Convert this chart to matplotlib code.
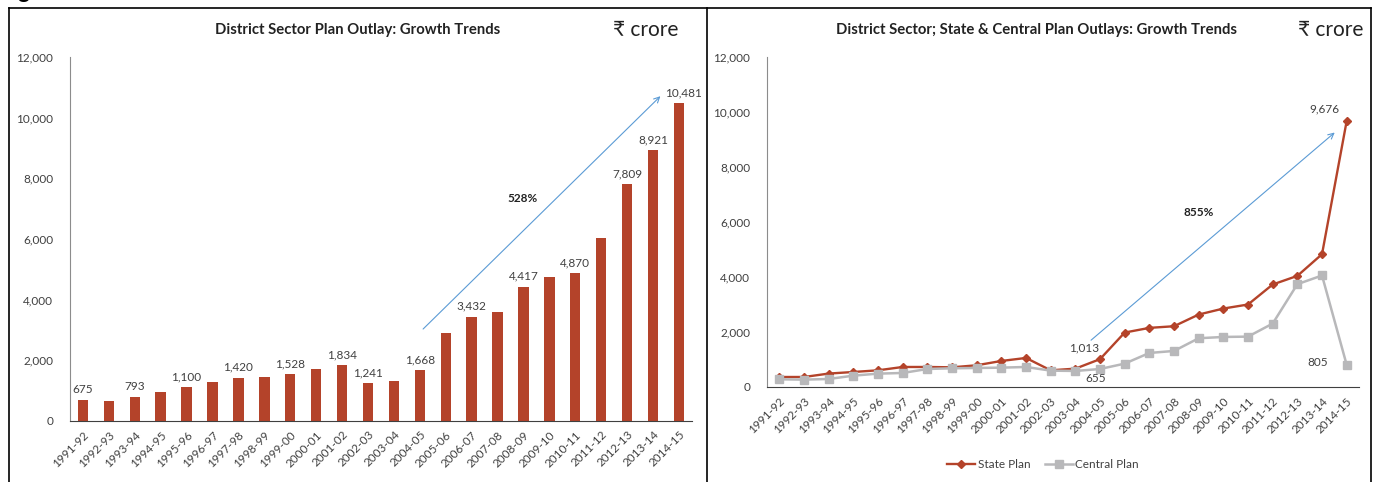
import matplotlib.pyplot as plt
from matplotlib.lines import Line2D

plt.rcParams['font.family'] = ['Lato', 'DejaVu Sans']

# data (Rs crore)
years = ['1991-92', '1992-93', '1993-94', '1994-95', '1995-96', '1996-97',
         '1997-98', '1998-99', '1999-00', '2000-01', '2001-02', '2002-03',
         '2003-04', '2004-05', '2005-06', '2006-07', '2007-08', '2008-09',
         '2009-10', '2010-11', '2011-12', '2012-13', '2013-14', '2014-15']
district_outlay = [675, 660, 793, 960, 1100, 1265, 1420, 1445, 1528, 1700, 1834, 1241,
                   1300, 1668, 2880, 3432, 3570, 4417, 4740, 4870, 6040, 7809, 8921, 10481]
labelled_years = ['1991-92', '1993-94', '1995-96', '1997-98', '1999-00', '2001-02',
                  '2002-03', '2004-05', '2006-07', '2008-09', '2010-11', '2012-13',
                  '2013-14', '2014-15']
state_plan = [364, 364, 488, 546, 607, 728, 728, 716, 790, 947, 1056, 607,
              667, 1013, 1980, 2150, 2210, 2635, 2853, 3000, 3728, 4041, 4830, 9676]
central_plan = [280, 268, 291, 413, 486, 510, 655, 680, 692, 704, 728, 595,
                583, 655, 850, 1238, 1311, 1773, 1820, 1832, 2307, 3739, 4055, 805]

red = '#B4432A'
grey = '#B8B8BA'
blue = '#5B9BD5'
txt = '#404040'

fig = plt.figure(figsize=(13.8, 4.82), dpi=100)
ax1 = fig.add_axes([0.0507, 0.1272, 0.4507, 0.7546])
ax2 = fig.add_axes([0.5558, 0.1971, 0.4290, 0.6846])

pos = list(range(len(years)))

def style(ax):
    ax.set_xlim(-0.5, len(years) - 0.5)
    ax.set_ylim(0, 12000)
    ax.set_yticks(range(0, 12001, 2000))
    ax.set_yticklabels(['{:,}'.format(v) for v in range(0, 12001, 2000)])
    ax.set_xticks(pos)
    ax.set_xticklabels(years, rotation=45, ha='right', rotation_mode='anchor')
    ax.tick_params(length=0, labelsize=8.5, labelcolor=txt)
    ax.tick_params(axis='y', pad=12)
    ax.tick_params(axis='x', pad=6)
    for s in ['top', 'right']:
        ax.spines[s].set_visible(False)
    ax.spines['left'].set_color('#8C8C8C')
    ax.spines['bottom'].set_color('#404040')

# left: bars
ax1.bar(pos, district_outlay, width=0.4, color=red)
style(ax1)
for i, (y, v) in enumerate(zip(years, district_outlay)):
    if y in labelled_years:
        dx = 5 if y == '2014-15' else 0
        ax1.annotate('{:,}'.format(v), (i, v), xytext=(dx, 5), textcoords='offset pixels',
                     ha='center', va='bottom', fontsize=8.5, color=txt)
ax1.annotate('', xy=(22.36, 10770), xytext=(13.05, 2960),
             arrowprops=dict(arrowstyle='->', color=blue, lw=0.8))
ax1.text(16.95, 7330, '528%', ha='center', va='center', fontsize=8.5,
         fontweight='bold', color='#222222')

# right: lines
ax2.plot(pos, state_plan, color=red, lw=1.7, marker='D', ms=4.5, label='State Plan')
ax2.plot(pos, central_plan, color=grey, lw=1.8, marker='s', ms=6, label='Central Plan')
style(ax2)
ax2.annotate('1,013', (13, state_plan[13]), xytext=(-16, 11), textcoords='offset pixels',
             ha='center', va='center', fontsize=8.5, color=txt)
ax2.annotate('655', (13, central_plan[13]), xytext=(-4, -10), textcoords='offset pixels',
             ha='center', va='center', fontsize=8.5, color=txt)
ax2.annotate('805', (23, central_plan[23]), xytext=(-29, 2), textcoords='offset pixels',
             ha='center', va='center', fontsize=8.5, color=txt)
ax2.annotate('9,676', (23, state_plan[23]), xytext=(-22, 12), textcoords='offset pixels',
             ha='center', va='center', fontsize=8.5, color=txt)
ax2.annotate('', xy=(22.6, 9320), xytext=(12.55, 1636),
             arrowprops=dict(arrowstyle='->', color=blue, lw=0.8))
ax2.text(17, 6360, '855%', ha='center', va='center', fontsize=8.5,
         fontweight='bold', color='#222222')

fig.legend(handles=ax2.get_lines(), loc='center', bbox_to_anchor=(1043 / 1380, 1 - 465 / 482),
           ncol=2, frameon=False, fontsize=8.5, handlelength=2.4, columnspacing=1.2,
           handletextpad=0.2, labelcolor=txt)

# titles and unit labels
fig.text(358 / 1380, 1 - 30 / 482, 'District Sector Plan Outlay: Growth Trends',
         ha='center', va='center', fontsize=10.7, fontweight='bold', color='#222222')
fig.text(1036 / 1380, 1 - 30 / 482, 'District Sector; State & Central Plan Outlays: Growth Trends',
         ha='center', va='center', fontsize=10.7, fontweight='bold', color='#222222')
for xc in [646 / 1380, 1331 / 1380]:
    fig.text(xc, 1 - 30 / 482, '\u20b9 crore', ha='center', va='center', fontsize=15, color='#222222')

# panel frames
ytop = 1 - 8 / 482
for x in [9 / 1380, 707 / 1380, 1371 / 1380]:
    fig.add_artist(Line2D([x, x], [0, ytop], color='black', lw=1.2))
fig.add_artist(Line2D([9 / 1380, 1371 / 1380], [ytop, ytop], color='black', lw=1.2))

# cut-off figure caption above the frame
fig.text(0.0, 1 + 2 / 482, 'Fig', ha='left', va='baseline', fontsize=16, fontweight='bold')

fig.savefig('out.png', dpi=100)
